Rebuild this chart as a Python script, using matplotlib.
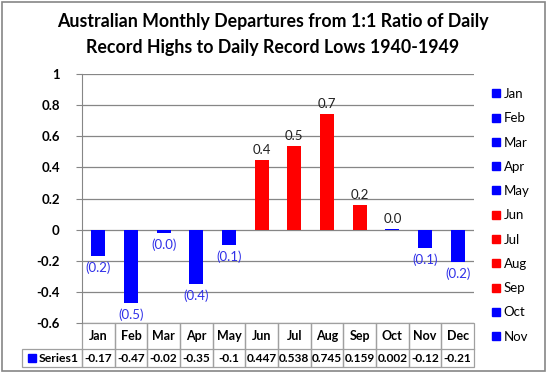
import matplotlib.pyplot as plt
from matplotlib.patches import Rectangle
from matplotlib.lines import Line2D

months = ["Jan", "Feb", "Mar", "Apr", "May", "Jun", "Jul", "Aug", "Sep", "Oct", "Nov", "Dec"]
values = [-0.17, -0.47, -0.02, -0.35, -0.1, 0.447, 0.538, 0.745, 0.159, 0.002, -0.12, -0.21]
bar_labels = ["(0.2)", "(0.5)", "(0.0)", "(0.4)", "(0.1)", "0.4", "0.5", "0.7", "0.2", "0.0", "(0.1)", "(0.2)"]
series_name = "Series1"

BLUE = "#0000FF"
RED = "#FF0000"
colors = [BLUE] * 5 + [RED] * 4 + [BLUE] * 3

plt.rcParams["font.family"] = ["Lato", "DejaVu Sans"]

W, H = 546, 372
fig = plt.figure(figsize=(W / 100, H / 100), dpi=100)

# plot area in pixels: x 82..474, y 74..323
ax = fig.add_axes([82 / W, 1 - 323 / H, 392 / W, 249 / H])
x = list(range(len(months)))
ax.bar(x, values, width=0.42, color=colors, zorder=3)
ax.set_xlim(-0.5, 11.5)
ax.set_ylim(-0.6, 1.0)
ax.set_yticks([-0.6, -0.4, -0.2, 0, 0.2, 0.4, 0.6, 0.8, 1.0])
ax.set_yticklabels(["%g" % t for t in ax.get_yticks()], fontweight="bold", fontsize=9.5)
ax.tick_params(axis="y", length=4, color="#868686", pad=12)
ax.set_xticks([])
ax.grid(axis="y", color="#868686", linewidth=0.9, zorder=0)
for s in ["top", "right", "bottom"]:
    ax.spines[s].set_visible(False)
ax.spines["left"].set_color("#868686")

# data labels
for i, (v, lab) in enumerate(zip(values, bar_labels)):
    if lab.startswith("("):
        ax.annotate(lab, (i, min(v, 0)), xytext=(0, -4), textcoords="offset points",
                    ha="center", va="top", fontsize=9.5, color="#3030E8")
    else:
        ax.annotate(lab, (i, v), xytext=(0, 3), textcoords="offset points",
                    ha="center", va="bottom", fontsize=9.5, color="#202020")

# data table below the plot
tr = ax.get_xaxis_transform()
hdr_top, hdr_bot = 0.0, -26 / 249
row_bot = -44 / 249
grid_c = "#a0a0a0"
for i, m in enumerate(months):
    ax.add_patch(Rectangle((i - 0.5, row_bot), 1, hdr_top - row_bot, transform=tr,
                           fill=False, edgecolor=grid_c, linewidth=0.9, clip_on=False))
    ax.plot([i - 0.5, i + 0.5], [hdr_bot, hdr_bot], transform=tr, color=grid_c,
            linewidth=0.9, clip_on=False)
    ax.text(i, (hdr_top + hdr_bot) / 2, m, transform=tr, ha="center", va="center",
            fontsize=9, fontweight="bold", clip_on=False)
    ax.text(i, (hdr_bot + row_bot) / 2, "%g" % values[i], transform=tr, ha="center",
            va="center", fontsize=8.6, fontweight="bold", clip_on=False)
unit = 392 / 12
left_x = -0.5 - 60 / unit
ax.add_patch(Rectangle((left_x, row_bot), -0.5 - left_x, hdr_bot - row_bot, transform=tr,
                       fill=False, edgecolor=grid_c, linewidth=0.9, clip_on=False))
ax.plot([left_x + 0.3], [(hdr_bot + row_bot) / 2], marker="s", markersize=5.5,
        color=BLUE, transform=tr, clip_on=False)
ax.text(left_x + 0.52, (hdr_bot + row_bot) / 2, series_name, transform=tr, ha="left",
        va="center", fontsize=8.8, fontweight="bold", clip_on=False)

# legend (Dec is cut off in the original)
handles = [Line2D([], [], linestyle="none", marker="s", markersize=5.5, color=c)
           for c in colors[:11]]
fig.legend(handles, months[:11], loc="upper left", bbox_to_anchor=(489 / W, 1 - 88 / H),
           frameon=False, fontsize=9.5, labelspacing=0.93, handletextpad=0.1,
           handlelength=1.0, borderaxespad=0, borderpad=0)

fig.text(0.5, 1 - 22 / H, "Australian Monthly Departures from 1:1 Ratio of Daily",
         ha="center", va="center", fontsize=12.8, fontweight="bold")
fig.text(0.5, 1 - 47 / H, "Record Highs to Daily Record Lows 1940-1949",
         ha="center", va="center", fontsize=12.8, fontweight="bold")

fig.add_artist(Rectangle((1.5 / W, 1.5 / H), (W - 3) / W, (H - 3) / H, transform=fig.transFigure,
                         fill=False, edgecolor="#868686", linewidth=1.2))

fig.savefig("out.png", dpi=100)
